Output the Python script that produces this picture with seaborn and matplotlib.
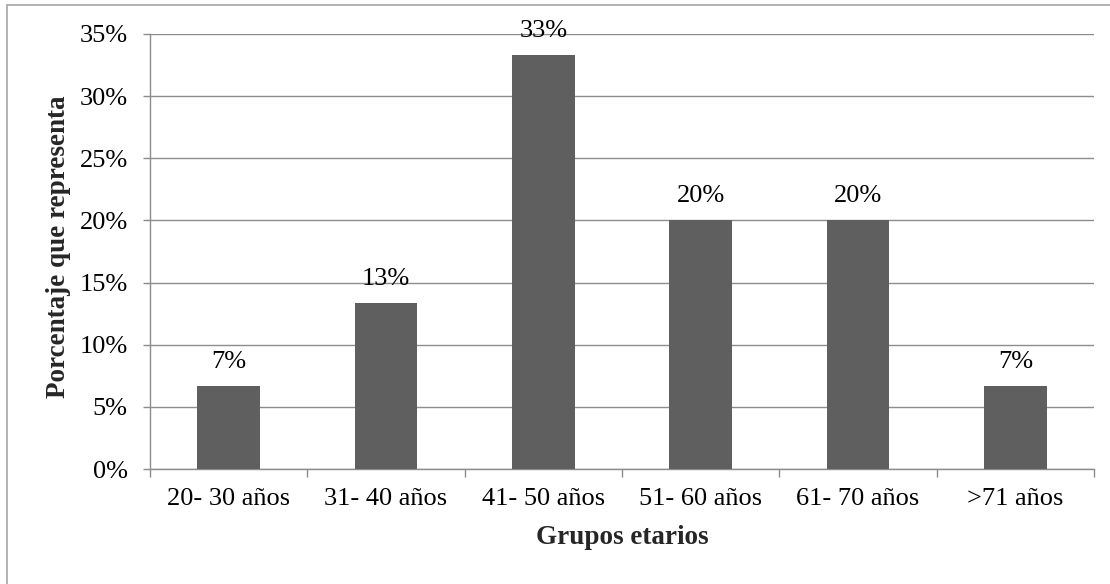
import matplotlib
matplotlib.use("Agg")
import matplotlib.pyplot as plt
from matplotlib.lines import Line2D
import seaborn as sns
import pandas as pd

# Age groups and share of respondents in each (percent)
grupos = ["20- 30 años", "31- 40 años", "41- 50 años", "51- 60 años", "61- 70 años", ">71 años"]
porcentajes = [6.67, 13.33, 33.33, 20.0, 20.0, 6.67]
y_ticks = [0, 5, 10, 15, 20, 25, 30, 35]
y_tick_labels = ["0%", "5%", "10%", "15%", "20%", "25%", "30%", "35%"]

sns.set_theme(style="white")
plt.rcParams["font.family"] = ["Liberation Serif", "DejaVu Serif"]

BAR = "#5f5f5f"
GRID = "#8c8c8c"

fig = plt.figure(figsize=(11.1, 5.84), dpi=100)
ax = fig.add_axes([150 / 1110, 1 - 469 / 584, 944 / 1110, 435 / 584])

df = pd.DataFrame({"grupo": grupos, "pct": porcentajes})
sns.barplot(data=df, x="grupo", y="pct", color=BAR, saturation=1,
            width=0.4, linewidth=0, ax=ax, zorder=3)

ax.set_xlim(-0.5, len(grupos) - 0.5)
ax.set_ylim(y_ticks[0], y_ticks[-1])
ax.set_yticks(y_ticks)
ax.set_yticklabels(y_tick_labels)

# horizontal gridlines behind the bars
ax.set_axisbelow(True)
ax.yaxis.grid(True, color=GRID, linewidth=1.0)
ax.xaxis.grid(False)

for side in ["top", "right"]:
    ax.spines[side].set_visible(False)
for side in ["left", "bottom"]:
    ax.spines[side].set_color(GRID)
    ax.spines[side].set_linewidth(1.0)

# category labels centred, tick marks on the category boundaries
ax.tick_params(axis="x", which="major", length=0, pad=14, labelsize=19, colors="black")
ax.set_xticks([i - 0.5 for i in range(len(grupos) + 1)], minor=True)
ax.tick_params(axis="x", which="minor", length=6, width=1.0, color=GRID, direction="out", bottom=True)
ax.tick_params(axis="y", length=5, width=1.0, color=GRID, direction="out", left=True,
               pad=11, labelsize=19, labelcolor="black")

ax.set_xlabel("Grupos etarios", fontsize=19.5, fontweight="bold")
ax.set_ylabel("Porcentaje que representa", fontsize=19.5, fontweight="bold")
ax.xaxis.label.set_va("center")
ax.yaxis.label.set_va("center")
ax.xaxis.set_label_coords(0.5005, -0.1586)
ax.yaxis.set_label_coords(-0.0964, 0.51)

# value labels above each bar
for patch, val in zip(ax.patches, porcentajes):
    ax.annotate(f"{val:.0f}%", (patch.get_x() + patch.get_width() / 2, patch.get_height()),
                xytext=(0, 13), textcoords="offset points", ha="center", va="baseline",
                fontsize=19, color="black", annotation_clip=False)

# chart frame (left and top edges)
fig.add_artist(Line2D([7 / 1110, 7 / 1110], [0, 1 - 5 / 584], transform=fig.transFigure,
                      color="#a6a6a6", linewidth=1.2))
fig.add_artist(Line2D([7 / 1110, 1], [1 - 5 / 584, 1 - 5 / 584], transform=fig.transFigure,
                      color="#a6a6a6", linewidth=1.2))

fig.savefig("out.png", dpi=100)
